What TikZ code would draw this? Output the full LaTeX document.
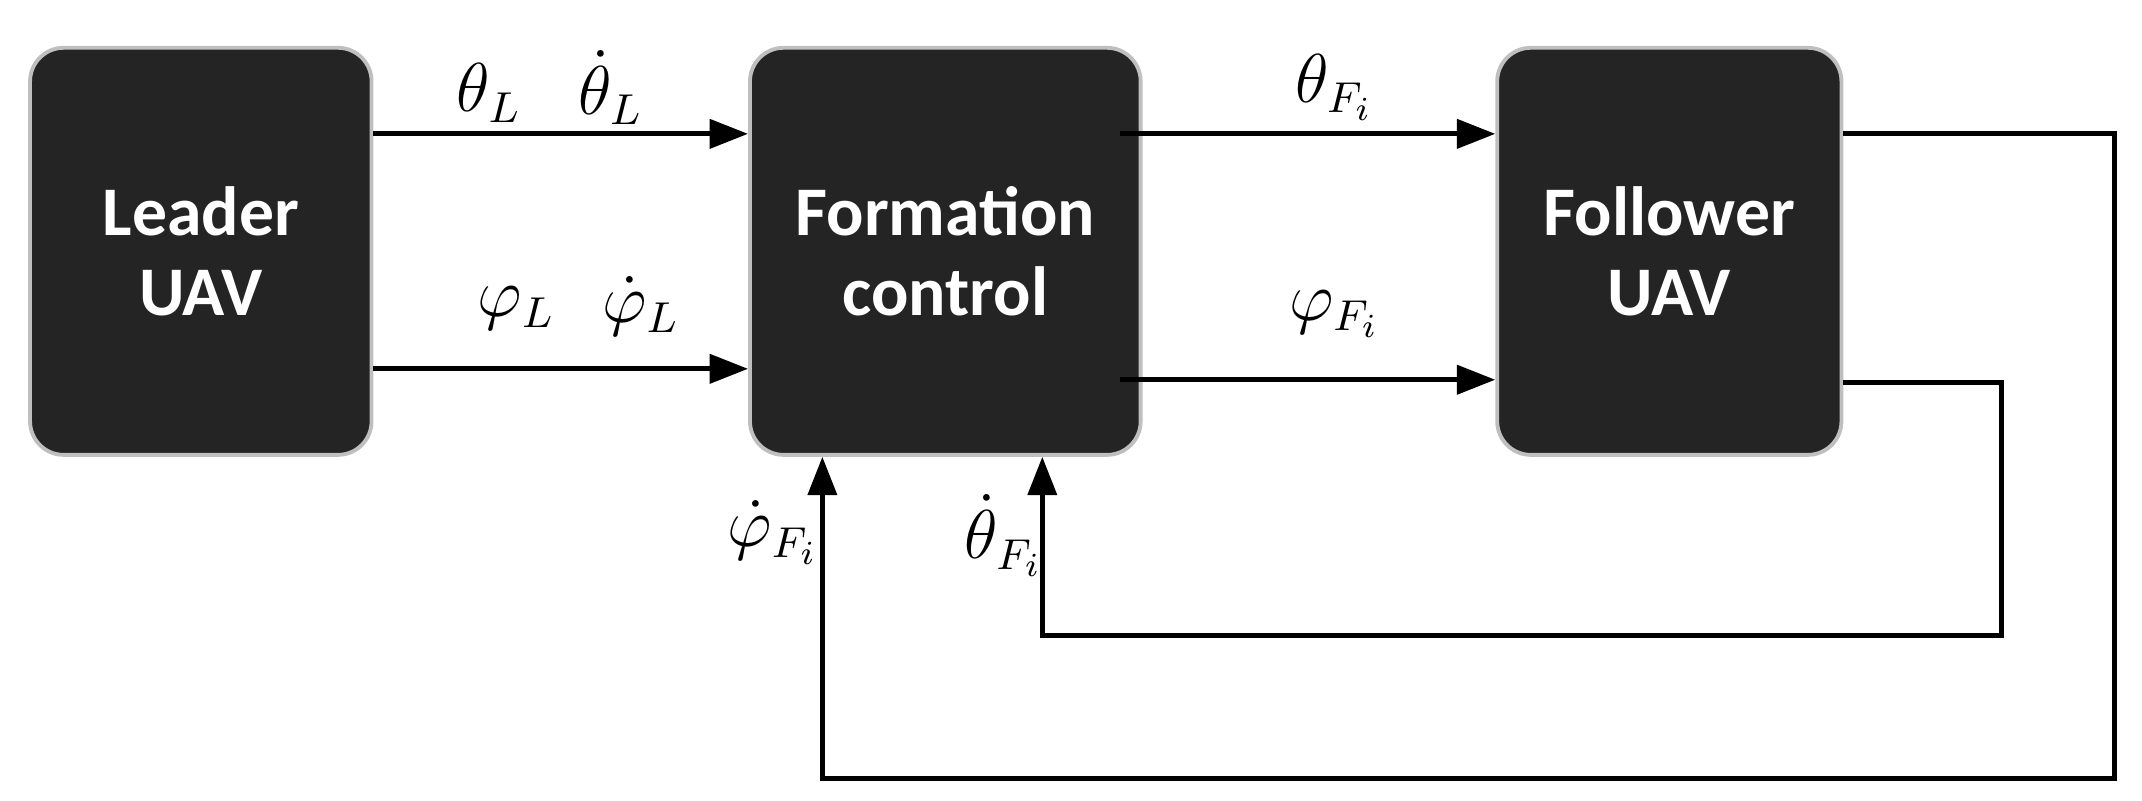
\documentclass[tikz,border=0pt]{standalone}
\usepackage{fontspec}
\newfontfamily\boxfont{Carlito}
\usetikzlibrary{arrows.meta}
\begin{document}
\begin{tikzpicture}[x=0.01cm,y=-0.01cm,
  blk/.style={draw=black!25,line width=0.8pt,fill=black!86,rounded corners=7pt,text=white,
     font=\boxfont\bfseries\fontsize{14.5}{16.5}\selectfont,align=center,inner sep=0pt},
  ln/.style={line width=1pt},
  arr/.style={ln,-{Triangle[length=8pt,width=6pt]}},
  lab/.style={font=\fontsize{13.5}{15}\selectfont,inner sep=0pt}]
\useasboundingbox (0,0) rectangle (1568,586);
\node[blk,minimum width=250*0.01cm,minimum height=298*0.01cm] (L) at (147,184) {Leader\\UAV};
\node[blk,minimum width=286*0.01cm,minimum height=298*0.01cm] (F) at (692,184) {Formation\\control};
\node[blk,minimum width=252*0.01cm,minimum height=298*0.01cm] (W) at (1222,184) {Follower\\UAV};
\coordinate (a1) at (820,98); \coordinate (a2) at (820,278);
\coordinate (c1) at (1548,98); \coordinate (c2) at (1548,570); \coordinate (c3) at (602,570);
\coordinate (d1) at (1465,280); \coordinate (d2) at (1465,465); \coordinate (d3) at (763,465);
\draw[arr] (L.east|-0,98) -- (F.west|-0,98);
\draw[arr] (L.east|-0,270) -- (F.west|-0,270);
\draw[arr] (a1) -- (W.west|-a1);
\draw[arr] (a2) -- (W.west|-a2);
\draw[arr] (W.east|-c1) -- (c1) -- (c2) -- (c3) -- (c3|-F.south);
\draw[arr] (W.east|-d1) -- (d1) -- (d2) -- (d3) -- (d3|-F.south);
\node[lab] (t1) at (358,68) {$\theta_L$};
\node[lab] (t2) at (447,64) {$\dot\theta_L$};
\node[lab] (p1) at (378,226) {$\varphi_L$};
\node[lab] (p2) at (469,224) {$\dot\varphi_L$};
\node[lab] (t3) at (977,64) {$\theta_{F_i}$};
\node[lab] (p3) at (977,230) {$\varphi_{F_i}$};
\node[lab] (p4) at (566,390) {$\dot\varphi_{F_i}$};
\node[lab] (t4) at (735,392) {$\dot\theta_{F_i}$};
\end{tikzpicture}
\end{document}
